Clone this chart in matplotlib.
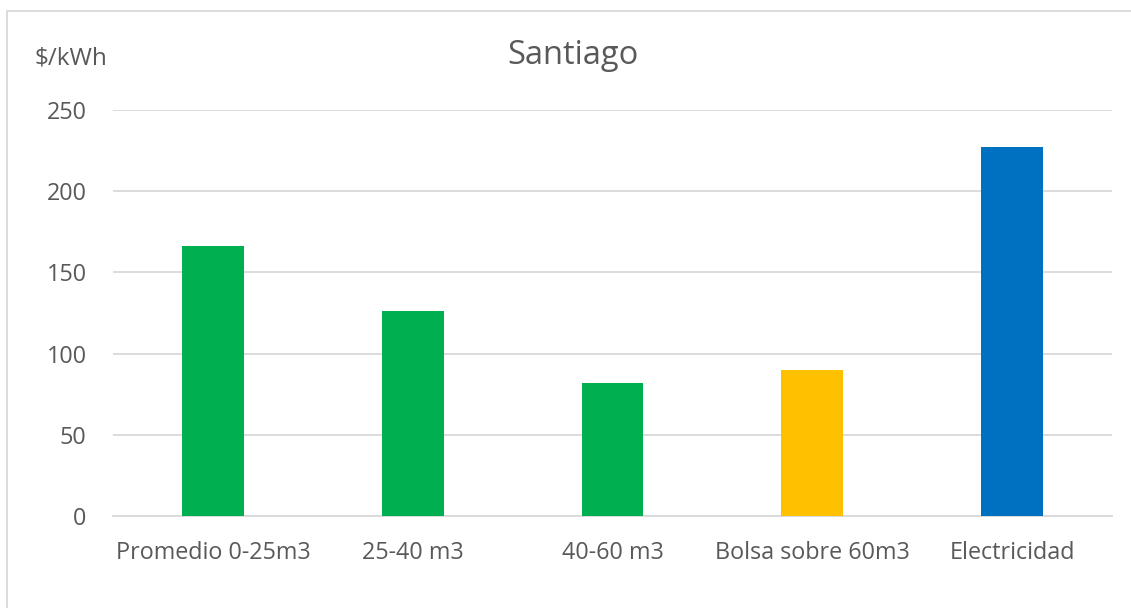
import matplotlib.pyplot as plt
from matplotlib.patches import Rectangle

categorias = ['Promedio 0-25m3', '25-40 m3', '40-60 m3', 'Bolsa sobre 60m3', 'Electricidad']
valores = [166, 126, 82, 90, 227]
colores = ['#00B050', '#00B050', '#00B050', '#FFC000', '#0070C0']

gris = '#595959'
plt.rcParams['font.family'] = ['Open Sans', 'DejaVu Sans']

fig = plt.figure(figsize=(11.31, 6.08), dpi=100)
ax = fig.add_axes([113 / 1131, 92 / 608, 999 / 1131, 406 / 608])

x = range(len(categorias))
ax.bar(x, valores, width=0.31, color=colores, zorder=3)

ax.set_xlim(-0.5, len(categorias) - 0.5)
ax.set_ylim(0, 250)
ax.set_yticks([0, 50, 100, 150, 200, 250])
ax.set_xticks(list(x))
ax.set_xticklabels(categorias)
ax.grid(axis='y', color='#D9D9D9', linewidth=1.3, zorder=0)
ax.tick_params(axis='both', length=0, labelsize=16.8, colors=gris)
ax.tick_params(axis='x', pad=18)
ax.tick_params(axis='y', pad=19)
for s in ['top', 'right', 'left']:
    ax.spines[s].set_visible(False)
ax.spines['bottom'].set_color('#D9D9D9')
ax.spines['bottom'].set_linewidth(1.3)

fig.text(573 / 1131, 1 - 56 / 608, 'Santiago', ha='center', va='center', fontsize=23.5, color=gris)
fig.text(35 / 1131, 1 - 58 / 608, '$/kWh', ha='left', va='center', fontsize=17.5, color=gris)

# marco del grafico
fig.patches.append(Rectangle((7 / 1131, -0.1), 1.2, 1 - 11 / 608 + 0.1, transform=fig.transFigure,
                             fill=False, edgecolor='#D9D9D9', linewidth=1.3))

fig.savefig('out.png', dpi=100)
